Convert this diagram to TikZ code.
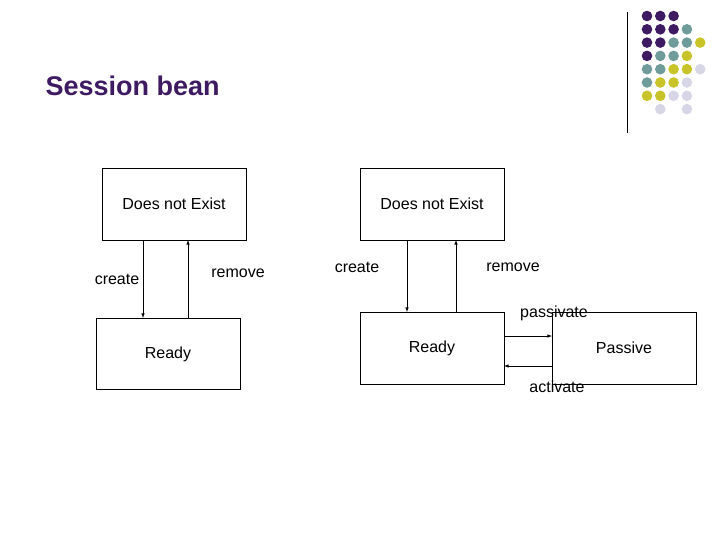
\documentclass[tikz,border=0pt]{standalone}
\usepackage{fontspec}
\setmainfont{Liberation Sans}
\begin{document}
\begin{tikzpicture}[x=1pt,y=-1pt,
  box/.style={draw,line width=0.6pt,inner sep=0pt},
  lbl/.style={font=\fontsize{16}{18}\selectfont},
  arr/.style={-latex,line width=0.6pt}]
\useasboundingbox (0,0) rectangle (720,540);
\definecolor{cP}{HTML}{3E1A63}\definecolor{cT}{HTML}{6F9B9B}
\definecolor{cY}{HTML}{C8C328}\definecolor{cL}{HTML}{D6D6E6}
\node[anchor=west,font=\fontsize{27}{30}\selectfont\bfseries,text=cP] (title) at (42,86) {Session bean};
\draw[line width=0.8pt] (627,12) -- (627,133);
\foreach \cc/\rr/\col in {0/0/cP,1/0/cP,2/0/cP,
  0/1/cP,1/1/cP,2/1/cP,3/1/cT,
  0/2/cP,1/2/cP,2/2/cT,3/2/cT,4/2/cY,
  0/3/cP,1/3/cT,2/3/cT,3/3/cY,
  0/4/cT,1/4/cT,2/4/cY,3/4/cY,4/4/cL,
  0/5/cT,1/5/cY,2/5/cY,3/5/cL,
  0/6/cY,1/6/cY,2/6/cL,3/6/cL,
  1/7/cL,3/7/cL}
  \fill[\col] (647+13.3*\cc,16+13.3*\rr) circle (5.3);
% left
\node[box,minimum width=144,minimum height=72] (dne1) at (174,204) {};
\node[lbl] at (174,204) {Does not Exist};
\node[box,minimum width=144,minimum height=71] (rdy1) at (168,354) {};
\node[lbl] at (168,354) {Ready};
\coordinate (a1) at (143,240); \coordinate (a2) at (143,318);
\coordinate (b1) at (188,318); \coordinate (b2) at (188,240);
\draw[arr] (a1) -- (a2); \draw[arr] (b1) -- (b2);
\node[lbl] (c1) at (117,279) {create};
\node[lbl] (r1) at (238,273) {remove};
% right
\node[box,minimum width=144,minimum height=72] (dne2) at (432,204) {};
\node[lbl] at (432,204) {Does not Exist};
\node[box,minimum width=144,minimum height=72] (rdy2) at (432,348) {};
\node[lbl] at (432,348) {Ready};
\node[box,minimum width=144,minimum height=72] (pas) at (624,348) {};
\node[lbl] at (624,348) {Passive};
\coordinate (d1) at (407,240); \coordinate (d2) at (407,312);
\coordinate (e1) at (456,312); \coordinate (e2) at (456,240);
\draw[arr] (d1) -- (d2); \draw[arr] (e1) -- (e2);
\coordinate (p1) at (504,336); \coordinate (p2) at (552,336);
\coordinate (q1) at (552,366); \coordinate (q2) at (504,366);
\draw[arr] (p1) -- (p2); \draw[arr] (q1) -- (q2);
\node[lbl] (c2) at (357,267) {create};
\node[lbl] (r2) at (513,267) {remove};
\node[lbl] (pv) at (554,313) {passivate};
\node[lbl] (av) at (557,387) {activate};
\end{tikzpicture}
\end{document}
